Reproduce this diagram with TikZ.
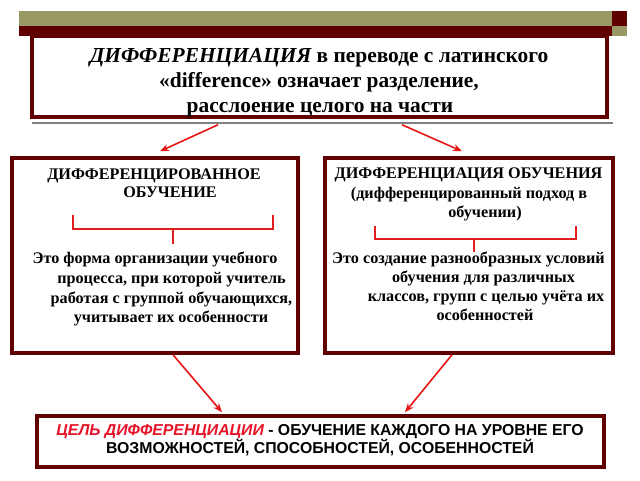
\documentclass[tikz,border=0pt]{standalone}
\usepackage{fontspec}
\setmainfont{Liberation Serif}
\newfontfamily\arialf{Liberation Sans}
\usetikzlibrary{arrows.meta}
\definecolor{dred}{RGB}{96,0,0}
\definecolor{olivebar}{RGB}{153,153,102}
\definecolor{arrred}{RGB}{232,20,20}
\definecolor{brred}{RGB}{225,30,30}
\definecolor{goalred}{RGB}{230,20,40}
\begin{document}
\begin{tikzpicture}[x=1pt,y=-1pt,
  box/.style={draw=dred, line width=3.5pt, fill=white, inner sep=0pt},
  arr/.style={draw=arrred, line width=1.6pt, -{Stealth[length=9pt,width=7pt]}},
  brk/.style={draw=brred, line width=1.5pt},
  mt/.style={anchor=base, inner sep=0pt, font=\fontsize{21.4}{25}\selectfont\bfseries},
  bt/.style={anchor=base, inner sep=0pt, font=\fontsize{16.2}{20}\selectfont\bfseries},
  gt/.style={anchor=base, inner sep=0pt, font=\arialf\fontsize{15.8}{18}\selectfont\bfseries}]
\useasboundingbox (0,0) rectangle (640,480);
% top bars
\fill[olivebar] (19,11) rectangle (612,26);
\fill[dred] (19,26) rectangle (612,36);
\fill[dred] (612,11) rectangle (627,26);
\fill[olivebar] (612,26) rectangle (627,36);
% boxes
\node[box, minimum width=575pt, minimum height=81pt] (main) at (319.5,76.5) {};
\draw[gray, line width=1.5pt] (32,123) -- (613,123);
\node[box, minimum width=286pt, minimum height=195pt] (left) at (155,255.5) {};
\node[box, minimum width=288pt, minimum height=195pt] (right) at (469,255.5) {};
\node[box, minimum width=567pt, minimum height=51pt] (goal) at (320.5,441.5) {};
% main text
\node[mt] (m1) at (319,62) {{\itshape ДИФФЕРЕНЦИАЦИЯ} в переводе с латинского};
\node[mt] (m2) at (319,87) {«difference» означает разделение,};
\node[mt] (m3) at (320,112) {расслоение целого на части};
% left box text
\node[bt] (l1) at (154,179) {ДИФФЕРЕНЦИРОВАННОЕ};
\node[bt] (l2) at (170,197) {ОБУЧЕНИЕ};
\node[bt] (l3) at (155,263) {Это форма организации учебного};
\node[bt] (l4) at (171.5,283) {процесса, при которой учитель};
\node[bt] (l5) at (171.5,303) {работая с группой обучающихся,};
\node[bt] (l6) at (171,322) {учитывает их особенности};
% right box text
\node[bt] (r1) at (468.5,178) {ДИФФЕРЕНЦИАЦИЯ ОБУЧЕНИЯ};
\node[bt] (r2) at (469,198) {(дифференцированный подход в};
\node[bt] (r3) at (485,217) {обучении)};
\node[bt] (r4) at (468.5,263) {Это создание разнообразных условий};
\node[bt] (r5) at (483.5,282) {обучения для различных};
\node[bt] (r6) at (486,301) {классов, групп с целью учёта их};
\node[bt] (r7) at (485,320) {особенностей};
% goal text
\node[gt] (g1) at (320,435) {{\color{goalred}\itshape ЦЕЛЬ ДИФФЕРЕНЦИАЦИИ} - ОБУЧЕНИЕ КАЖДОГО НА УРОВНЕ ЕГО};
\node[gt] (g2) at (320,453) {ВОЗМОЖНОСТЕЙ, СПОСОБНОСТЕЙ, ОСОБЕННОСТЕЙ};
% brackets
\draw[brk] (73,215) -- (73,229) -- (273,229) -- (273,215);
\draw[brk] (173,229) -- (173,244);
\draw[brk] (375,226) -- (375,239) -- (576,239) -- (576,226);
\draw[brk] (474,239) -- (474,252);
% arrows
\draw[arr] ([xshift=-101.5pt,yshift=-6pt]main.south) -- ([xshift=5pt,yshift=5pt]left.north);
\draw[arr] ([xshift=82.5pt,yshift=-6pt]main.south) -- ([xshift=-7pt,yshift=5pt]right.north);
\draw[arr] ([xshift=18pt]left.south) -- ([xshift=-98.5pt,yshift=2pt]goal.north);
\draw[arr] ([xshift=-17pt]right.south) -- ([xshift=84.5pt,yshift=2pt]goal.north);
\end{tikzpicture}
\end{document}
